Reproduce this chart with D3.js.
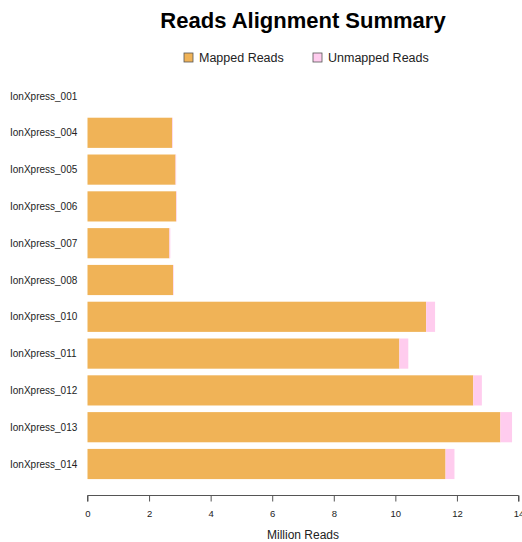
<!DOCTYPE html>
<html><head><meta charset="utf-8">
<script src="https://cdn.jsdelivr.net/npm/d3@7"></script>
<style>body{margin:0;background:#fff}svg{display:block}text{font-family:"Liberation Sans",Arial,sans-serif}</style>
</head><body><svg id="c" width="522" height="542"></svg>
<script>
const samples = ["IonXpress_001","IonXpress_004","IonXpress_005","IonXpress_006","IonXpress_007","IonXpress_008","IonXpress_010","IonXpress_011","IonXpress_012","IonXpress_013","IonXpress_014"];
const mapped = [0, 2.75, 2.86, 2.88, 2.66, 2.78, 11.0, 10.13, 12.53, 13.41, 11.63];
const unmapped = [0, 0.02, 0.02, 0.02, 0.03, 0.02, 0.29, 0.29, 0.28, 0.38, 0.29];
const xTicks = [0, 2, 4, 6, 8, 10, 12, 14];
const seriesNames = ["Mapped Reads", "Unmapped Reads"];
const colors = ["#F0B357", "#FFCCEE"];

const svg = d3.select("#c");
const x = d3.scaleLinear().domain([0, 14]).range([87.5, 518.5]);
const step = 36.8;
const y = d3.scaleBand().domain(samples).range([96 - step/2, 96 - step/2 + step*samples.length]).paddingInner(0.18).paddingOuter(0.09);

// bars
const g = svg.append("g");
samples.forEach((s, i) => {
  const stack = [[0, mapped[i]], [mapped[i], mapped[i] + unmapped[i]]];
  stack.forEach((d, j) => {
    if (d[1] - d[0] <= 0) return;
    g.append("rect")
      .attr("x", x(d[0])).attr("y", y(s))
      .attr("width", x(d[1]) - x(d[0])).attr("height", y.bandwidth())
      .attr("fill", colors[j]);
  });
});

// category labels
svg.append("g").selectAll("text").data(samples).join("text")
  .attr("x", 10).attr("y", d => y(d) + y.bandwidth()/2)
  .attr("dy", "0.35em").attr("font-size", 10).attr("fill", "#222").text(d => d);

// x axis
const ax = svg.append("g").attr("transform", "translate(0,495.5)")
  .call(d3.axisBottom(x).tickValues(xTicks).tickSize(6).tickPadding(9).tickFormat(d3.format("d")));
ax.select(".domain").attr("stroke", "#555").attr("d", `M${x(0)},6V0H${x(14)}V6`);
ax.selectAll(".tick line").attr("stroke", "#555");
ax.selectAll(".tick text").attr("font-size", 9.5).attr("fill", "#222").attr("font-family", "Liberation Sans, Arial, sans-serif");

svg.append("text").attr("x", (x(0)+x(14))/2).attr("y", 539).attr("text-anchor", "middle")
  .attr("font-size", 12).attr("fill", "#222").text("Million Reads");

// title
svg.append("text").attr("x", 303).attr("y", 28).attr("text-anchor", "middle")
  .attr("font-size", 22).attr("font-weight", "bold").attr("fill", "#000").text("Reads Alignment Summary");

// legend
const legX = [184, 313];
seriesNames.forEach((n, i) => {
  svg.append("rect").attr("x", legX[i]).attr("y", 53).attr("width", 9).attr("height", 9)
    .attr("fill", colors[i]).attr("stroke", "#555").attr("stroke-width", 0.8);
  svg.append("text").attr("x", legX[i] + 15).attr("y", 62).attr("font-size", 12.5).attr("fill", "#222").text(n);
});
</script></body></html>
